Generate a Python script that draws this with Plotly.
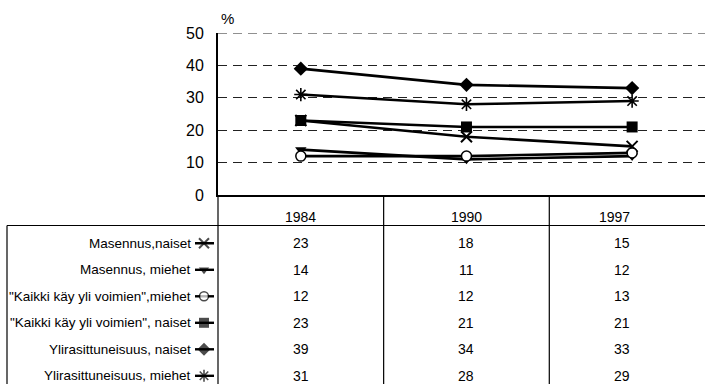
import plotly.graph_objects as go

years = ["1984", "1990", "1997"]
series_names = [
    "Masennus,naiset",
    "Masennus, miehet",
    "\"Kaikki käy yli voimien\",miehet",
    "\"Kaikki käy yli voimien\", naiset",
    "Ylirasittuneisuus, naiset",
    "Ylirasittuneisuus, miehet",
]
masennus_naiset = [23, 18, 15]
masennus_miehet = [14, 11, 12]
kaikki_miehet = [12, 12, 13]
kaikki_naiset = [23, 21, 21]
ylir_naiset = [39, 34, 33]
ylir_miehet = [31, 28, 29]
series_values = [masennus_naiset, masennus_miehet, kaikki_miehet,
                 kaikki_naiset, ylir_naiset, ylir_miehet]
y_ticks = [0, 10, 20, 30, 40, 50]

W, H = 705, 384
marker_styles = [
    dict(symbol="x-thin-open", size=11, color="black", line=dict(width=2, color="black")),
    dict(symbol="triangle-down", size=10, color="black", line=dict(width=0)),
    dict(symbol="circle", size=10, color="white", line=dict(width=1.5, color="black")),
    dict(symbol="square", size=11, color="black", line=dict(width=0)),
    dict(symbol="diamond", size=11, color="black", line=dict(width=0)),
    dict(symbol="asterisk-open", size=11, color="black", line=dict(width=1.6, color="black")),
]

# geometry (pixels)
plot_left, plot_top, plot_bottom = 218, 33, 195
table_top = 225.5
row0_center, row_h = 243.3, 26.5
x_min, x_max = -0.5, 2.44
grid_dash = "9px,6px"

fig = go.Figure()
for name, vals, ms in zip(series_names, series_values, marker_styles):
    fig.add_trace(go.Scatter(
        x=list(range(len(years))), y=vals, mode="lines+markers", name=name,
        line=dict(color="black", width=2.6), marker=ms,
        xaxis="x", yaxis="y", showlegend=False, cliponaxis=False))

# legend keys inside table row labels
for i, ms in enumerate(marker_styles):
    m = dict(ms)
    m["size"] = [0, ms["size"] - 1, 0]
    fig.add_trace(go.Scatter(
        x=[195, 204, 214], y=[i, i, i], mode="lines+markers",
        line=dict(color="black", width=2.4), marker=m,
        xaxis="x2", yaxis="y2", showlegend=False, cliponaxis=False,
        hoverinfo="skip"))

label_font = dict(family="Liberation Sans, Arial, sans-serif", size=13.5, color="black")
num_font = dict(family="Liberation Sans, Arial, sans-serif", size=14, color="black")

x_dom = [plot_left / W, 1.0]
def xpaper(v):
    return x_dom[0] + (v - x_min) / (x_max - x_min) * (x_dom[1] - x_dom[0])

annotations = []
y2_min = (table_top - row0_center) / row_h
y2_max = (H - row0_center) / row_h
for j, yr in enumerate(years):
    annotations.append(dict(x=xpaper(j), xref="paper", y=1 - 217 / H, yref="paper",
                            text=yr, showarrow=False, yanchor="middle", font=num_font))
for i, (name, vals) in enumerate(zip(series_names, series_values)):
    annotations.append(dict(x=193 / W, xref="paper", y=i, yref="y2", text=name,
                            xanchor="right", showarrow=False, font=label_font))
    for j, yr in enumerate(years):
        annotations.append(dict(x=xpaper(j), xref="paper", y=i, yref="y2", text=str(vals[j]),
                                showarrow=False, font=num_font))
annotations.append(dict(x=plot_left / W + 0.002, xref="paper", y=1 - 19 / H, yref="paper",
                        text="%", showarrow=False, xanchor="left", yanchor="middle",
                        font=dict(family="Liberation Sans, Arial", size=15, color="black")))

shapes = []
# top gridline (at the range boundary)
shapes.append(dict(type="line", xref="paper", yref="y", x0=x_dom[0], x1=x_dom[1],
                   y0=max(y_ticks), y1=max(y_ticks),
                   line=dict(color="#222", width=1, dash=grid_dash)))
# table top horizontal line
shapes.append(dict(type="line", xref="paper", yref="paper", x0=7 / W, x1=1,
                   y0=1 - table_top / H, y1=1 - table_top / H,
                   line=dict(color="black", width=1.2)))
# table left border
shapes.append(dict(type="line", xref="paper", yref="paper", x0=7 / W, x1=7 / W,
                   y0=0, y1=1 - table_top / H, line=dict(color="black", width=1.2)))
# column boundaries
for k in range(len(years)):
    xb = xpaper(k - 0.5)
    shapes.append(dict(type="line", xref="paper", yref="paper", x0=xb, x1=xb,
                       y0=0, y1=1 - plot_bottom / H, line=dict(color="black", width=1.2)))

fig.update_layout(
    width=W, height=H,
    margin=dict(l=0, r=0, t=0, b=0, pad=0, autoexpand=False),
    paper_bgcolor="white", plot_bgcolor="white",
    xaxis=dict(domain=x_dom, range=[x_min, x_max], showgrid=False, automargin=False,
               showticklabels=False, ticks="", showline=True, linecolor="black",
               linewidth=2, zeroline=False, anchor="y"),
    yaxis=dict(domain=[1 - plot_bottom / H, 1 - plot_top / H], range=[0, 50],
               tickvals=y_ticks, showgrid=True, gridcolor="#222", gridwidth=1,
               griddash=grid_dash, showline=True, linecolor="black", linewidth=2,
               zeroline=False, ticks="", ticklabelstandoff=9, automargin=False,
               tickfont=dict(family="Liberation Sans, Arial", size=16, color="black"),
               anchor="x"),
    xaxis2=dict(domain=[0, plot_left / W], range=[0, plot_left], visible=False,
                anchor="y2", automargin=False),
    yaxis2=dict(domain=[0, 1 - table_top / H], range=[y2_max, y2_min], visible=False,
                anchor="x2", automargin=False),
    annotations=annotations, shapes=shapes,
)

fig.write_html("out.html", config={"displayModeBar": False},
               post_script="document.body.style.margin='0';document.body.style.overflow='hidden';")
